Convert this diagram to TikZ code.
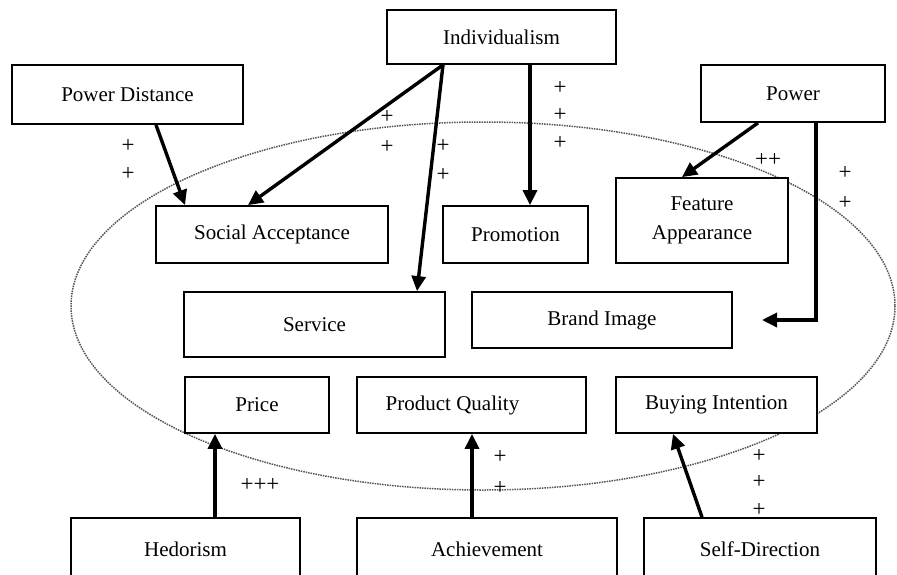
\documentclass[tikz,border=0pt]{standalone}
\usepackage{fontspec}
\setmainfont{Liberation Serif}
\usepackage{xcolor}
\definecolor{ringgray}{RGB}{85,85,85}
\usetikzlibrary{arrows.meta,positioning}
\tikzset{
  fbox/.style={draw, line width=1.8pt, fill=white, font=\fontsize{21}{29}\selectfont,
               minimum width=#1, inner sep=2pt, align=center},
  sign/.style={font=\fontsize{23}{24}\selectfont, inner sep=0pt},
  link/.style={-{Triangle[length=15pt,width=14pt]}, line width=3.4pt},
}

\begin{document}
\begin{tikzpicture}[x=1pt, y=-1pt]

\clip (0,0) rectangle (897,574);
\useasboundingbox (0,0) rectangle (897,574);

% Ring of product attributes
\draw[densely dotted, ringgray, line width=1.5pt] (483,306) ellipse [x radius=412, y radius=184];

% Cultural values (top)
\node[fbox=229pt, minimum height=54pt] (indiv) at (501.5,37) {Individualism};
\node[fbox=231pt, minimum height=59pt] (powdist) at (127.5,94.5) {Power Distance};
\node[fbox=184pt, minimum height=57pt] (power) at (793,93.5) {Power};

% Attributes
\node[fbox=232pt, minimum height=57pt] (socacc) at (272,234.5) {Social Acceptance};
\node[fbox=145pt, minimum height=57pt] (promo) at (515.5,234.5) {Promotion};
\node[fbox=172pt, minimum height=85pt] (feat) at (702,220.5) {Feature\\Appearance};
\node[fbox=261pt, minimum height=65pt] (service) at (314.5,324.5) {Service};
\node[fbox=260pt, minimum height=56pt] (brand) at (602,320) {Brand Image};
\node[fbox=144pt, minimum height=56pt] (price) at (257,405) {Price};
\node[fbox=229pt, minimum height=56pt] (quality) at (471.5,405) {\hspace*{-38pt}Product Quality};
\node[fbox=201pt, minimum height=56pt] (buying) at (716.5,405) {Buying Intention};

% Values (bottom)
\node[fbox=229pt, minimum height=62pt] (hedon) at (185.5,549) {Hedorism};
\node[fbox=260pt, minimum height=62pt] (achieve) at (487,549) {Achievement};
\node[fbox=232pt, minimum height=62pt] (selfdir) at (760,549) {Self-Direction};

% Links from the top
\draw[link] ([xshift=28.5pt]powdist.south) -- ([xshift=-87pt]socacc.north);
\draw[link] ([xshift=-58.5pt]indiv.south) -- ([xshift=-24pt]socacc.north);
\draw[link] ([xshift=-58.5pt]indiv.south) -- ([xshift=102.5pt]service.north);
\draw[link] ([xshift=28.5pt]indiv.south) -- ([xshift=14.5pt]promo.north);
\draw[link] ([xshift=-35pt]power.south) -- ([xshift=-20pt]feat.north);
\coordinate (brandin) at (762,320);
\draw[link] ([xshift=23pt]power.south) |- (brandin);

% Links from the bottom
\draw[link] ([xshift=29.5pt]hedon.north) -- ([xshift=-42pt]price.south);
\draw[link] ([xshift=-15pt]achieve.north) -- ([xshift=0.5pt]quality.south);
\draw[link] ([xshift=-58pt]selfdir.north) -- ([xshift=-43.5pt]buying.south);

% Signs
\node[sign] (pd1) at (128,146) {+};
\node[sign] (pd2) at (128,174) {+};
\node[sign] (sa1) at (387,117) {+};
\node[sign] (sa2) at (387,147) {+};
\node[sign] (sv1) at (443,146) {+};
\node[sign] (sv2) at (443,175) {+};
\node[sign] (pr1) at (560,88) {+};
\node[sign] (pr2) at (560,115) {+};
\node[sign] (pr3) at (560,143) {+};
\node[sign] (fa1) at (768,160) {++};
\node[sign] (bi1) at (845,173) {+};
\node[sign] (bi2) at (845,203) {+};
\node[sign] (hd1) at (260,485) {+++};
\node[sign] (ac1) at (500,457) {+};
\node[sign] (ac2) at (500,488) {+};
\node[sign] (sd1) at (759,456) {+};
\node[sign] (sd2) at (759,482) {+};
\node[sign] (sd3) at (759,510) {+};

\end{tikzpicture}
\end{document}
